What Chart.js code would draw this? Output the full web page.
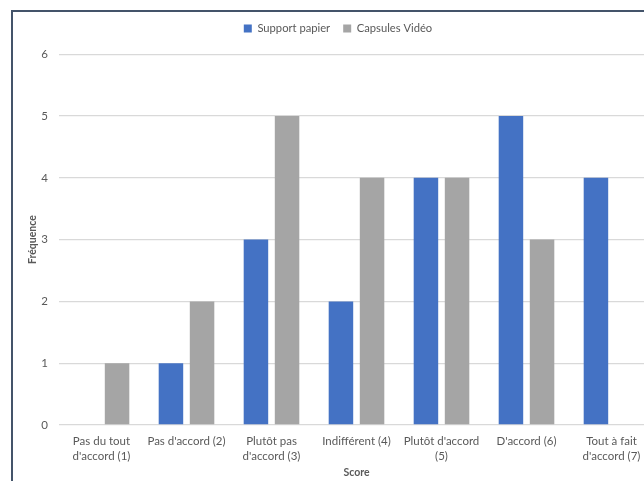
<!DOCTYPE html>
<html>
<head>
<meta charset="utf-8">
<script src="https://cdn.jsdelivr.net/npm/chart.js@4/dist/chart.umd.min.js"></script>
<style>
  html, body { margin: 0; padding: 0; background: #ffffff; overflow: hidden; }
  body { width: 644px; height: 481px; position: relative; }
  #frame { position: absolute; left: 11px; top: 10px; width: 720px; height: 600px;
           border: 2px solid #44546a; box-sizing: border-box; }
  #wrap { position: absolute; left: 0; top: 0; width: 670px; height: 481px; }
</style>
</head>
<body>
<div id="frame"></div>
<div id="wrap"><canvas id="chart" width="670" height="481"></canvas></div>
<script>
// Réponses au questionnaire : fréquence de chaque score
const categories = [
  ["Pas du tout", "d'accord (1)"],
  "Pas d'accord (2)",
  ["Plutôt pas", "d'accord (3)"],
  "Indifférent (4)",
  ["Plutôt d'accord", "(5)"],
  "D'accord (6)",
  ["Tout à fait", "d'accord (7)"]
];
const supportPapier = [0, 1, 3, 2, 4, 5, 4];
const capsulesVideo = [1, 2, 5, 4, 4, 3, 0];
const yTicks = [0, 1, 2, 3, 4, 5, 6];

const textColor = '#595959';
Chart.defaults.font.family = 'Lato, "Liberation Sans", sans-serif';
Chart.defaults.color = textColor;

// Leaves extra room between the legend and the plot area
const legendGap = {
  id: 'legendGap',
  beforeInit(chart) {
    const fit = chart.legend.fit;
    chart.legend.fit = function () {
      fit.call(this);
      this.height += 10;
    };
  }
};

new Chart(document.getElementById('chart'), {
  type: 'bar',
  data: {
    labels: categories,
    datasets: [
      { label: 'Support papier', data: supportPapier, backgroundColor: '#4472C4',
        categoryPercentage: 0.732, barPercentage: 0.788 },
      { label: 'Capsules Vidéo', data: capsulesVideo, backgroundColor: '#A5A5A5',
        categoryPercentage: 0.732, barPercentage: 0.788 }
    ]
  },
  plugins: [legendGap],
  options: {
    responsive: false,
    devicePixelRatio: 1,
    animation: false,
    layout: { padding: { top: 10, right: 16, bottom: 0, left: 22 } },
    plugins: {
      legend: {
        position: 'top',
        labels: { boxWidth: 8, boxHeight: 8, padding: 13, font: { size: 11.2 }, color: textColor }
      },
      tooltip: { enabled: false }
    },
    scales: {
      x: {
        grid: { display: false, drawTicks: false },
        border: { display: false },
        ticks: { padding: 9, font: { size: 11.5, lineHeight: 1.3 }, color: textColor, maxRotation: 0, autoSkip: false },
        title: { display: true, text: 'Score', font: { size: 10.5, weight: 'bold' }, color: textColor,
                 padding: { top: 0, bottom: 2 } },
        afterFit: (scale) => { scale.height = 56; }
      },
      y: {
        min: 0,
        max: 6,
        afterBuildTicks: (scale) => { scale.ticks = yTicks.map(v => ({ value: v })); },
        grid: { color: '#D9D9D9', lineWidth: 1.3, drawTicks: false },
        border: { display: false },
        ticks: { padding: 11, font: { size: 11.5 }, color: textColor },
        title: { display: true, text: 'Fréquence', font: { size: 10.5, weight: 'bold' }, color: textColor,
                 padding: { top: 4, bottom: 0 } },
        afterFit: (scale) => { scale.width = 37; }
      }
    }
  }
});
</script>
</body>
</html>
